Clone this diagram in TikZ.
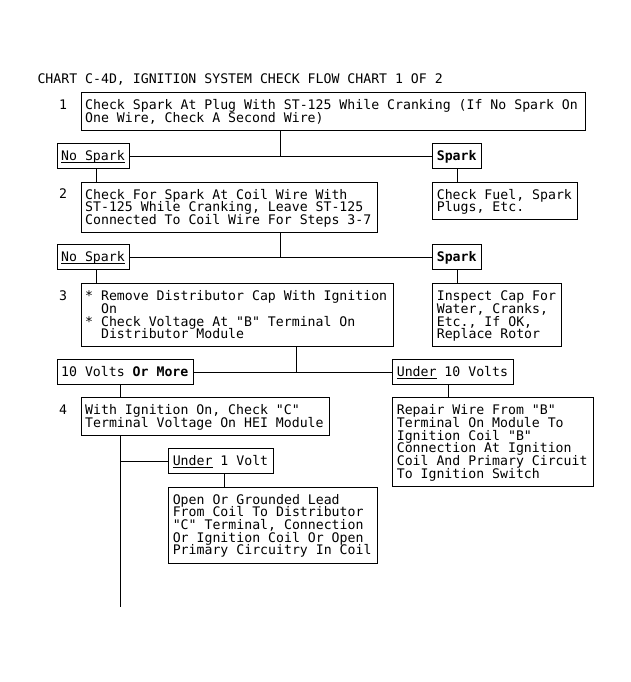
\documentclass[tikz,border=0pt]{standalone}
\usepackage{fontspec}
\newfontfamily\chartfont[WordSpace = {1,0,0}]{DejaVu Sans Mono}
\newcommand\chartsize{\chartfont\fontsize{13.2bp}{12.7bp}\selectfont\lineskiplimit=-\maxdimen\relax}
\newcommand\chartul[1]{\leavevmode\setbox0\hbox{#1}\rlap{\rule[-2bp]{\wd0}{0.8bp}}\box0\relax}
\newcommand\topstrut{\spaceskip=\fontdimen2\font\relax\xspaceskip=\fontdimen2\font\relax
  \rule{0pt}{16.8bp}}
\newcommand\botstrut{\rule[-8.2bp]{0pt}{8.2bp}}
\newcommand\indnt{\hphantom{**}}

\begin{document}
\begin{tikzpicture}[x = 1bp, y = -1bp, line width = 1bp,
    chart/.style = {font = \chartsize},
    box/.style = {chart, draw, anchor = north west, align = left,
                  inner xsep = 4bp, inner ysep = 0pt,
                  execute at begin node = \topstrut,
                  execute at end node = \botstrut},
    num/.style = {chart, anchor = base, inner sep = 0pt}]
  \useasboundingbox (0, 0) rectangle (631, 682);
  \node[chart, anchor = base west, inner sep = 0pt] (title) at (37, 84)
       {CHART C-4D, IGNITION SYSTEM CHECK FLOW CHART 1 OF 2};

  % step 1
  \node[num] (n1) at (63, 109.1) {1};
  \node[box, text width = 496.6bp] (step1) at (80.7, 92.3)
       {Check Spark At Plug With ST-125 While Cranking (If No Spark On\\
        One Wire, Check A Second Wire)};
  \node[box, text width = 64.3bp] (nospark1) at (56.7, 143.3) {\chartul{No Spark}};
  \node[box, text width = 40.7bp] (spark1) at (432.3, 143.3) {\textbf{Spark}};
  \node[box, text width = 136.7bp] (fuel) at (432.3, 181.7)
       {Check Fuel, Spark\\ Plugs, Etc.};
  \coordinate (j1) at (280, 155.8);
  \draw (nospark1) -- (spark1);
  \draw (j1) -- (j1 |- step1.south);
  \draw (spark1.south) -- (spark1.south |- fuel.north);

  % step 2
  \node[num] (n2) at (63, 198.5) {2};
  \node[box, text width = 288.3bp] (step2) at (80.7, 181.7)
       {Check For Spark At Coil Wire With\\
        ST-125 While Cranking, Leave ST-125\\
        Connected To Coil Wire For Steps 3-7};
  \coordinate (a1) at ([xshift = 40bp]nospark1.south west);
  \draw (a1) -- (a1 |- step2.north);
  \node[box, text width = 64.3bp] (nospark2) at (56.7, 244.3) {\chartul{No Spark}};
  \node[box, text width = 40.7bp] (spark2) at (432.3, 244.3) {\textbf{Spark}};
  \node[box, text width = 120.4bp] (inspect) at (432.3, 283.3)
       {Inspect Cap For\\ Water, Cranks,\\ Etc., If OK,\\ Replace Rotor};
  \coordinate (j2) at (280, 256.8);
  \draw (nospark2) -- (spark2);
  \draw (j2) -- (j2 |- step2.south);
  \draw (spark2.south) -- (spark2.south |- inspect.north);

  % step 3
  \node[num] (n3) at (63, 300.1) {3};
  \node[box, text width = 304.6bp] (step3) at (80.7, 283.3)
       {{*} Remove Distributor Cap With Ignition\\
        \indnt On\\
        {*} Check Voltage At "B" Terminal On\\
        \indnt Distributor Module};
  \coordinate (a2) at ([xshift = 40bp]nospark2.south west);
  \draw (a2) -- (a2 |- step3.north);
  \node[box, text width = 128.6bp] (tenmore) at (56.7, 359.3) {10 Volts \textbf{Or More}};
  \node[box, text width = 112.7bp] (underten) at (392.3, 359.3) {\chartul{Under} 10 Volts};
  \node[box, text width = 193bp] (repair) at (392.3, 397.3)
       {Repair Wire From "B"\\ Terminal On Module To\\ Ignition Coil "B"\\
        Connection At Ignition\\ Coil And Primary Circuit\\ To Ignition Switch};
  \coordinate (j3) at (296.7, 371.8);
  \draw (tenmore) -- (underten);
  \draw (j3) -- (j3 |- step3.south);
  \coordinate (a4) at ([xshift = 56bp]underten.south west);
  \draw (a4) -- (a4 |- repair.north);

  % step 4
  \node[num] (n4) at (63, 414.1) {4};
  \node[box, text width = 240.3bp] (step4) at (80.7, 397.3)
       {With Ignition On, Check "C"\\ Terminal Voltage On HEI Module};
  \coordinate (a3) at ([xshift = 64bp]tenmore.south west);
  \draw (a3) -- (a3 |- step4.north);
  \node[box, text width = 97bp] (underone) at (168.3, 448.3) {\chartul{Under} 1 Volt};
  \node[box, text width = 200.4bp] (openlead) at (168.3, 486.7)
       {Open Or Grounded Lead\\ From Coil To Distributor\\ "C" Terminal, Connection\\
        Or Ignition Coil Or Open\\ Primary Circuitry In Coil};
  \coordinate (tail) at (120.7, 606.7);
  \draw (step4.south -| tail) -- (tail);
  \draw (underone.west -| tail) -- (underone.west);
  \coordinate (a5) at ([xshift = 56bp]underone.south west);
  \draw (a5) -- (a5 |- openlead.north);
\end{tikzpicture}
\end{document}
